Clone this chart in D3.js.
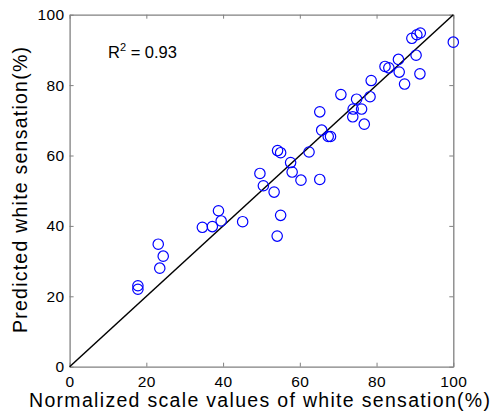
<!DOCTYPE html>
<html><head><meta charset="utf-8">
<script src="https://cdn.jsdelivr.net/npm/d3@7"></script>
<style>body{margin:0;background:#fff}svg{display:block}text{font-family:Arial,"Liberation Sans",sans-serif}</style>
</head><body>
<svg id="c" width="494" height="415"></svg>
<script>
const measured = [100,91.4,90.5,89.2,90.3,91.3,87.3,85.9,85.7,83.2,82.2,78.6,78.3,74.8,76.1,73.9,73.8,76.8,70.7,65.2,65.7,67.4,68.0,62.4,57.6,58.0,60.3,65.2,54.2,55.0,49.6,50.5,53.3,55.0,54.1,45.1,38.8,39.5,34.6,37.2,23.1,24.4,23.5,17.8,17.8];
const predicted = [92.2,94.8,94.3,93.3,88.5,83.2,80.3,83.7,87.3,84.9,85.3,81.3,76.7,76.0,73.2,73.2,71.0,68.9,77.3,72.4,67.2,65.4,65.4,61.0,58.0,55.3,53.0,53.2,61.4,60.8,54.9,51.4,49.6,43.0,37.1,41.2,44.3,41.4,39.6,39.8,34.8,31.4,28.0,23.0,22.0];
const ticks = [0,20,40,60,80,100];
const xTitle = "Normalized scale values of white sensation(%)";
const yTitle = "Predicted white sensation(%)";

const svg = d3.select("#c");
const L = 69.6, R = 453.3, T = 14.7, B = 366.7;
const x = d3.scaleLinear().domain([0,100]).range([L,R]);
const y = d3.scaleLinear().domain([0,100]).range([B,T]);
const axisColor = "#808080";

const g = svg.append("g");
const fmt = d3.format("d");
const xb = g.append("g").attr("transform",`translate(0,${B})`).call(d3.axisBottom(x).tickValues(ticks).tickFormat(fmt).tickSizeInner(-4).tickSizeOuter(0).tickPadding(9));
const xt = g.append("g").attr("transform",`translate(0,${T})`).call(d3.axisTop(x).tickValues(ticks).tickFormat("").tickSizeInner(-4).tickSizeOuter(0));
const yl = g.append("g").attr("transform",`translate(${L},0)`).call(d3.axisLeft(y).tickValues(ticks).tickFormat(fmt).tickSizeInner(-4).tickSizeOuter(0).tickPadding(5));
const yr = g.append("g").attr("transform",`translate(${R},0)`).call(d3.axisRight(y).tickValues(ticks).tickFormat("").tickSizeInner(-4).tickSizeOuter(0));
[xb,xt,yl,yr].forEach(a=>{
  a.selectAll("path").attr("stroke",axisColor).attr("stroke-width",1.3);
  a.selectAll("line").attr("stroke",axisColor).attr("stroke-width",1);
  a.selectAll("text").attr("fill","#000").attr("font-size",15.5).attr("letter-spacing",0.4).attr("font-family","Arial, 'Liberation Sans', sans-serif");
});

g.append("line").attr("x1",x(0)).attr("y1",y(0)).attr("x2",x(100)).attr("y2",y(100))
 .attr("stroke","#000").attr("stroke-width",1.5);

g.append("g").selectAll("circle").data(measured.map((m,i)=>[m,predicted[i]])).join("circle")
 .attr("cx",d=>x(d[0])).attr("cy",d=>y(d[1])).attr("r",5.2)
 .attr("fill","none").attr("stroke","#0000ff").attr("stroke-width",1.2);

const rt = g.append("text").attr("x",108).attr("y",58).attr("font-size",16.5).attr("fill","#000");
rt.append("tspan").text("R");
rt.append("tspan").attr("dy",-7).attr("font-size",11).text("2");
rt.append("tspan").attr("dy",7).text(" = 0.93");

g.append("text").attr("x",29).attr("y",407).attr("font-size",19.5).attr("fill","#000")
 .attr("textLength",461).attr("lengthAdjust","spacing").text(xTitle);
g.append("text").attr("transform",`translate(26.5,333) rotate(-90)`).attr("font-size",19.5).attr("fill","#000")
 .attr("textLength",286).attr("lengthAdjust","spacing").text(yTitle);
</script>
</body></html>
